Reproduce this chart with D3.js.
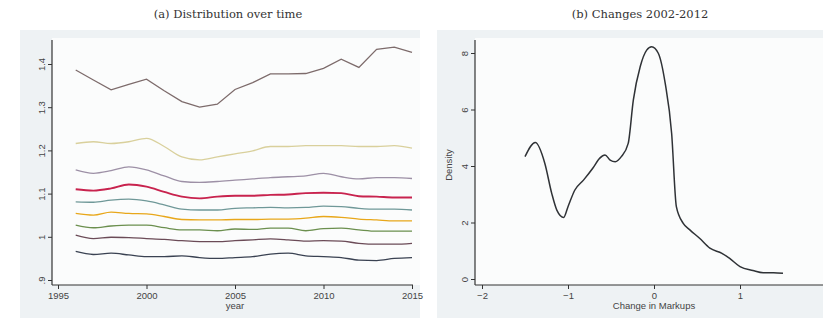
<!DOCTYPE html>
<html><head><meta charset="utf-8">
<script src="https://cdn.jsdelivr.net/npm/d3@7"></script>
<style>body{margin:0;background:#fff}svg{display:block}</style>
</head><body>
<script>
const years = d3.range(1996, 2016);
const p1 = [1.386,1.363,1.340,1.353,1.365,1.338,1.313,1.300,1.307,1.341,1.357,1.377,1.377,1.378,1.390,1.411,1.392,1.434,1.439,1.427];
const p2 = [1.216,1.220,1.216,1.220,1.228,1.209,1.185,1.178,1.185,1.192,1.199,1.209,1.209,1.211,1.211,1.211,1.209,1.209,1.211,1.205];
const p3 = [1.155,1.147,1.153,1.162,1.155,1.141,1.128,1.126,1.128,1.131,1.134,1.137,1.139,1.141,1.147,1.139,1.134,1.137,1.137,1.135];
const p4 = [1.110,1.107,1.112,1.121,1.116,1.104,1.093,1.089,1.093,1.095,1.095,1.097,1.098,1.101,1.102,1.101,1.094,1.093,1.091,1.091];
const p5 = [1.081,1.080,1.085,1.087,1.083,1.074,1.064,1.062,1.062,1.066,1.067,1.068,1.067,1.068,1.071,1.070,1.066,1.064,1.064,1.062];
const p6 = [1.054,1.050,1.057,1.054,1.053,1.047,1.040,1.039,1.039,1.040,1.040,1.041,1.041,1.043,1.047,1.045,1.041,1.039,1.037,1.037];
const p7 = [1.027,1.021,1.025,1.027,1.027,1.021,1.016,1.016,1.014,1.018,1.017,1.020,1.020,1.014,1.019,1.020,1.016,1.013,1.013,1.013];
const p8 = [1.004,0.996,0.999,0.998,0.996,0.994,0.991,0.989,0.989,0.991,0.993,0.995,0.993,0.990,0.991,0.990,0.985,0.983,0.983,0.985];
const p9 = [0.966,0.959,0.962,0.958,0.954,0.954,0.956,0.952,0.950,0.952,0.954,0.960,0.962,0.956,0.954,0.952,0.946,0.945,0.950,0.952];
const seriesColors = ["#7d6b6b","#d9d09c","#9d90a6","#c8234e","#6f9898","#e8a71a","#6b8f4e","#6b4b57","#3a4252"];
const yearTicks = [1995,2000,2005,2010,2015];
const leftYTicks = [0.9,1.0,1.1,1.2,1.3,1.4];
const leftYLabels = [".9","1","1.1","1.2","1.3","1.4"];

const changeX = [-1.5,-1.38,-1.27,-1.19,-1.13,-1.05,-1.0,-0.92,-0.82,-0.71,-0.63,-0.57,-0.51,-0.45,-0.38,-0.30,-0.24,-0.16,-0.085,-0.027,0.05,0.13,0.205,0.26,0.34,0.42,0.53,0.65,0.79,0.88,1.0,1.15,1.27,1.39,1.5];
const densityY = [4.33,4.83,4.1,3.04,2.44,2.18,2.56,3.15,3.5,3.93,4.28,4.39,4.21,4.15,4.33,4.8,6.34,7.52,8.1,8.22,7.99,6.93,5.16,2.56,1.97,1.73,1.44,1.09,0.91,0.73,0.44,0.3,0.22,0.22,0.2];
const changeTicks = [-2,-1,0,1,2];
const densityTicks = [0,2,4,6,8];

const W = 823, H = 323;
const svg = d3.select("body").append("svg").attr("width", W).attr("height", H);

const axisColor = "#333";
const labelColor = "#444";
const sans = "Liberation Sans, Arial, sans-serif";

function panel(o) {
  const g = svg.append("g");
  g.append("rect").attr("x", o.bx).attr("y", 30).attr("width", o.bw).attr("height", 288).attr("fill", "#eef2f4");
  g.append("rect").attr("x", o.px0).attr("y", 38).attr("width", o.px1 - o.px0).attr("height", 247).attr("fill", "#fbfcfc");
  g.append("text").attr("x", o.tx).attr("y", 18).attr("text-anchor", "middle")
    .attr("font-family", "DejaVu Serif, Liberation Serif, serif").attr("font-size", 11.5).attr("fill", "#333").text(o.title);
  return g;
}

// ---------- Panel (a)
const gA = panel({bx: 20, bw: 400, px0: 52, px1: 420, tx: 228, title: "(a) Distribution over time"});
const xA = d3.scaleLinear().domain([1995, 2015]).range([58, 412]);
const yA = d3.scaleLinear().domain([0.9, 1.4]).range([280, 64]);

[p1,p2,p3,p4,p5,p6,p7,p8,p9].forEach((s, k) => {
  const ln = d3.line().x((d, i) => xA(years[i])).y(d => yA(d))
    .curve(k === 0 ? d3.curveLinear : d3.curveMonotoneX);
  gA.append("path").attr("d", ln(s)).attr("fill", "none")
    .attr("stroke", seriesColors[k]).attr("stroke-width", k === 3 ? 1.9 : 1.3);
});

const axB = gA.append("g").attr("transform", "translate(0,285)")
  .call(d3.axisBottom(xA).tickValues(yearTicks).tickFormat(d3.format("d")).tickSize(4).tickSizeOuter(0));
axB.select(".domain").attr("d", "M52,0H413");
const axL = gA.append("g").attr("transform", "translate(52,0)")
  .call(d3.axisLeft(yA).tickValues(leftYTicks).tickFormat((d, i) => leftYLabels[i]).tickSize(4).tickSizeOuter(0));
axL.select(".domain").attr("d", "M0,40V285");
axL.selectAll(".tick text").attr("transform", "rotate(-90)").attr("x", 0).attr("y", -7).attr("dy", 0).attr("text-anchor", "middle");
gA.append("text").attr("class", "axlab").attr("x", 235).attr("y", 309).attr("text-anchor", "middle").text("year");

// ---------- Panel (b)
const gB = panel({bx: 437, bw: 386, px0: 475, px1: 823, tx: 640, title: "(b) Changes 2002-2012"});
const xB = d3.scaleLinear().domain([-2, 1]).range([482, 740]);
const yB = d3.scaleLinear().domain([0, 8]).range([279, 53]);
const lineB = d3.line().x(d => xB(d)).y((d, i) => yB(densityY[i])).curve(d3.curveMonotoneX);
gB.append("path").attr("d", lineB(changeX)).attr("fill", "none").attr("stroke", "#2f3236").attr("stroke-width", 1.5);

const bxB = gB.append("g").attr("transform", "translate(0,285)")
  .call(d3.axisBottom(xB).tickValues(changeTicks).tickFormat(d3.format("d")).tickSize(4).tickSizeOuter(0));
bxB.select(".domain").attr("d", "M475,0H823");
const blB = gB.append("g").attr("transform", "translate(475,0)")
  .call(d3.axisLeft(yB).tickValues(densityTicks).tickFormat(d3.format("d")).tickSize(4).tickSizeOuter(0));
blB.select(".domain").attr("d", "M0,40V285");
blB.selectAll(".tick text").attr("transform", "rotate(-90)").attr("x", 0).attr("y", -7).attr("dy", 0).attr("text-anchor", "middle");
gB.append("text").attr("class", "axlab").attr("x", 654).attr("y", 309).attr("text-anchor", "middle").text("Change in Markups");
gB.append("text").attr("class", "axlab").attr("transform", "translate(452,165) rotate(-90)").attr("text-anchor", "middle").text("Density");

svg.selectAll(".domain").attr("stroke", axisColor).attr("stroke-width", 1.2);
svg.selectAll(".tick line").attr("stroke", axisColor);
svg.selectAll(".tick text").attr("fill", labelColor).attr("font-size", 9.5).attr("font-family", sans);
svg.selectAll(".axlab").attr("fill", labelColor).attr("font-size", 9.5).attr("font-family", sans);
</script>
</body></html>
